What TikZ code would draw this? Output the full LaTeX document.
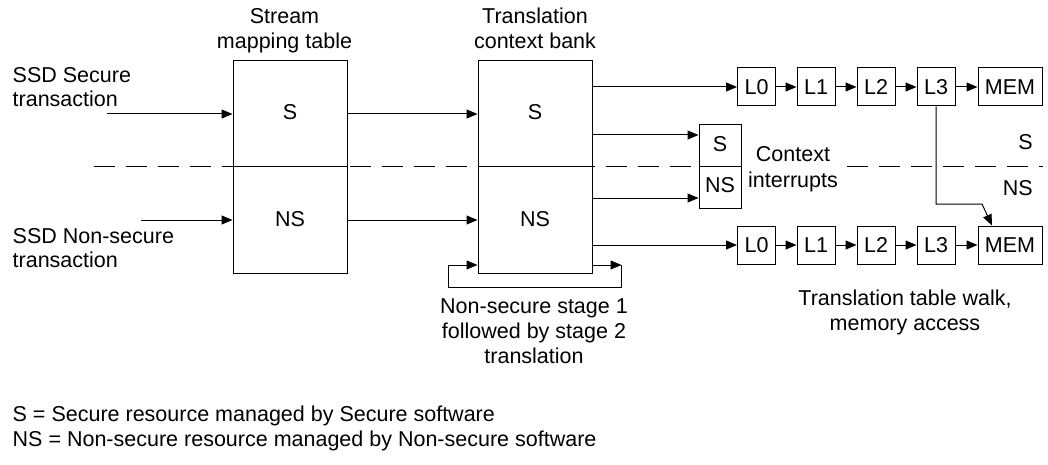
\documentclass[tikz,border=0pt]{standalone}
\usepackage{fontspec}
\setmainfont{Liberation Sans}
\usetikzlibrary{arrows.meta}
\begin{document}
\begin{tikzpicture}[x=1pt,y=-1pt,
  every node/.style={font=\fontsize{21.5pt}{25pt}\selectfont, inner sep=0pt},
  bigbox/.style={draw, line width=1pt, minimum width=114pt, minimum height=212pt},
  cibox/.style={draw, line width=1pt, minimum width=42pt, minimum height=83pt},
  lbox/.style={draw, line width=1pt, minimum height=38pt, minimum width=38pt},
  membox/.style={draw, line width=1pt, minimum height=38pt, minimum width=64pt},
  lbl/.style={anchor=base},
  lbll/.style={anchor=base west},
  lblr/.style={anchor=base east},
  arr/.style={line width=1pt, -{Triangle[length=11pt,width=9pt]}},
  plain/.style={line width=1pt},
  sepline/.style={line width=1pt, dash pattern=on 21pt off 11pt},
]
\useasboundingbox (0,0) rectangle (1048,465);

% main boxes
\node[bigbox] (smt) at (290,167) {};
\node[bigbox] (tcb) at (535,167) {};
\node[cibox] (ci) at (720,166.5) {};

% separator
\coordinate (dL) at (94,167);
\draw[sepline] (dL) -- (ci.west |- dL);
\draw[plain] (smt.west |- dL) -- (smt.east |- dL);
\draw[plain] (tcb.west |- dL) -- (tcb.east |- dL);
\draw[plain] (ci.west |- dL) -- (ci.east |- dL);
\coordinate (dR1) at (847,167);
\coordinate (dR2) at (1043,167);
\draw[sepline] (dR1) -- (dR2);

% titles and labels
\node[lbl] (smtT1) at (284.5,24) {Stream};
\node[lbl] (smtT2) at (284.5,49) {mapping table};
\node[lbl] (tcbT1) at (535,24) {Translation};
\node[lbl] (tcbT2) at (535,49) {context bank};
\node[lbll] (inSa) at (12.5,83) {SSD Secure};
\node[lbll] (inSb) at (12.5,107) {transaction};
\node[lbll] (inNa) at (12.5,243) {SSD Non-secure};
\node[lbll] (inNb) at (12.5,267) {transaction};
\node[lbl] (sS) at (290,120) {S};
\node[lbl] (sNS) at (290,226) {NS};
\node[lbl] (tS) at (535,120) {S};
\node[lbl] (tNS) at (535,226) {NS};
\node[lbl] (ciS) at (720,152) {S};
\node[lbl] (ciNS) at (720,193) {NS};
\node[lbl] (ctx1) at (793,161) {Context};
\node[lbl] (ctx2) at (793,187) {interrupts};
\node[lblr] (rS) at (1033,149.5) {S};
\node[lblr] (rNS) at (1033,195) {NS};
\node[lbl] (ns1) at (534,313) {Non-secure stage 1};
\node[lbl] (ns2) at (534,338) {followed by stage 2};
\node[lbl] (ns3) at (534,363) {translation};
\node[lbl] (tw1) at (905,305) {Translation table walk,};
\node[lbl] (tw2) at (905,330) {memory access};
\node[lbll] (lg1) at (12.5,421) {S = Secure resource managed by Secure software};
\node[lbll] (lg2) at (12.5,446) {NS = Non-secure resource managed by Non-secure software};

% table walk rows
\node[lbox] (tL0) at (756.5,87) {L0};
\node[lbox] (tL1) at (816,87) {L1};
\node[lbox] (tL2) at (876,87) {L2};
\node[lbox] (tL3) at (936,87) {L3};
\node[membox] (tM) at (1010,87) {MEM};
\node[lbox] (bL0) at (756.5,245) {L0};
\node[lbox] (bL1) at (816,245) {L1};
\node[lbox] (bL2) at (876,245) {L2};
\node[lbox] (bL3) at (936,245) {L3};
\node[membox] (bM) at (1010,245) {MEM};

\draw[arr] (tL0) -- (tL1);
\draw[arr] (tL1) -- (tL2);
\draw[arr] (tL2) -- (tL3);
\draw[arr] (tL3) -- (tM);
\draw[arr] (bL0) -- (bL1);
\draw[arr] (bL1) -- (bL2);
\draw[arr] (bL2) -- (bL3);
\draw[arr] (bL3) -- (bM);

% inputs
\coordinate (inS) at (107,114);
\coordinate (inNS) at (141,220);
\draw[arr] (inS) -- (smt.west |- inS);
\draw[arr] (inNS) -- (smt.west |- inNS);
\draw[arr] (smt.east |- inS) -- (tcb.west |- inS);
\draw[arr] (smt.east |- inNS) -- (tcb.west |- inNS);

% outputs of context bank
\draw[arr] (tcb.east |- tL0) -- (tL0);
\draw[arr] (tcb.east |- bL0) -- (bL0);
\coordinate (ciA) at (0,135);
\coordinate (ciB) at (0,198);
\draw[arr] (tcb.east |- ciA) -- (ci.west |- ciA);
\draw[arr] (tcb.east |- ciB) -- (ci.west |- ciB);

% stage 1 -> stage 2 loop
\coordinate (lpY) at (0,265);
\coordinate (lpL) at (448,287);
\coordinate (lpR) at (621.5,287);
\draw[arr] (tcb.east |- lpY) -- (lpR |- lpY);
\draw[arr] (lpR |- lpY) -- (lpR) -- (lpL) -- (lpL |- lpY) -- (tcb.west |- lpY);

% secure L3 to non-secure memory
\coordinate (bendB) at (982,204);
\draw[arr] (tL3.south) -- (tL3.south |- bendB) -- (bendB) -- ([xshift=-18pt]bM.north);
\end{tikzpicture}
\end{document}
